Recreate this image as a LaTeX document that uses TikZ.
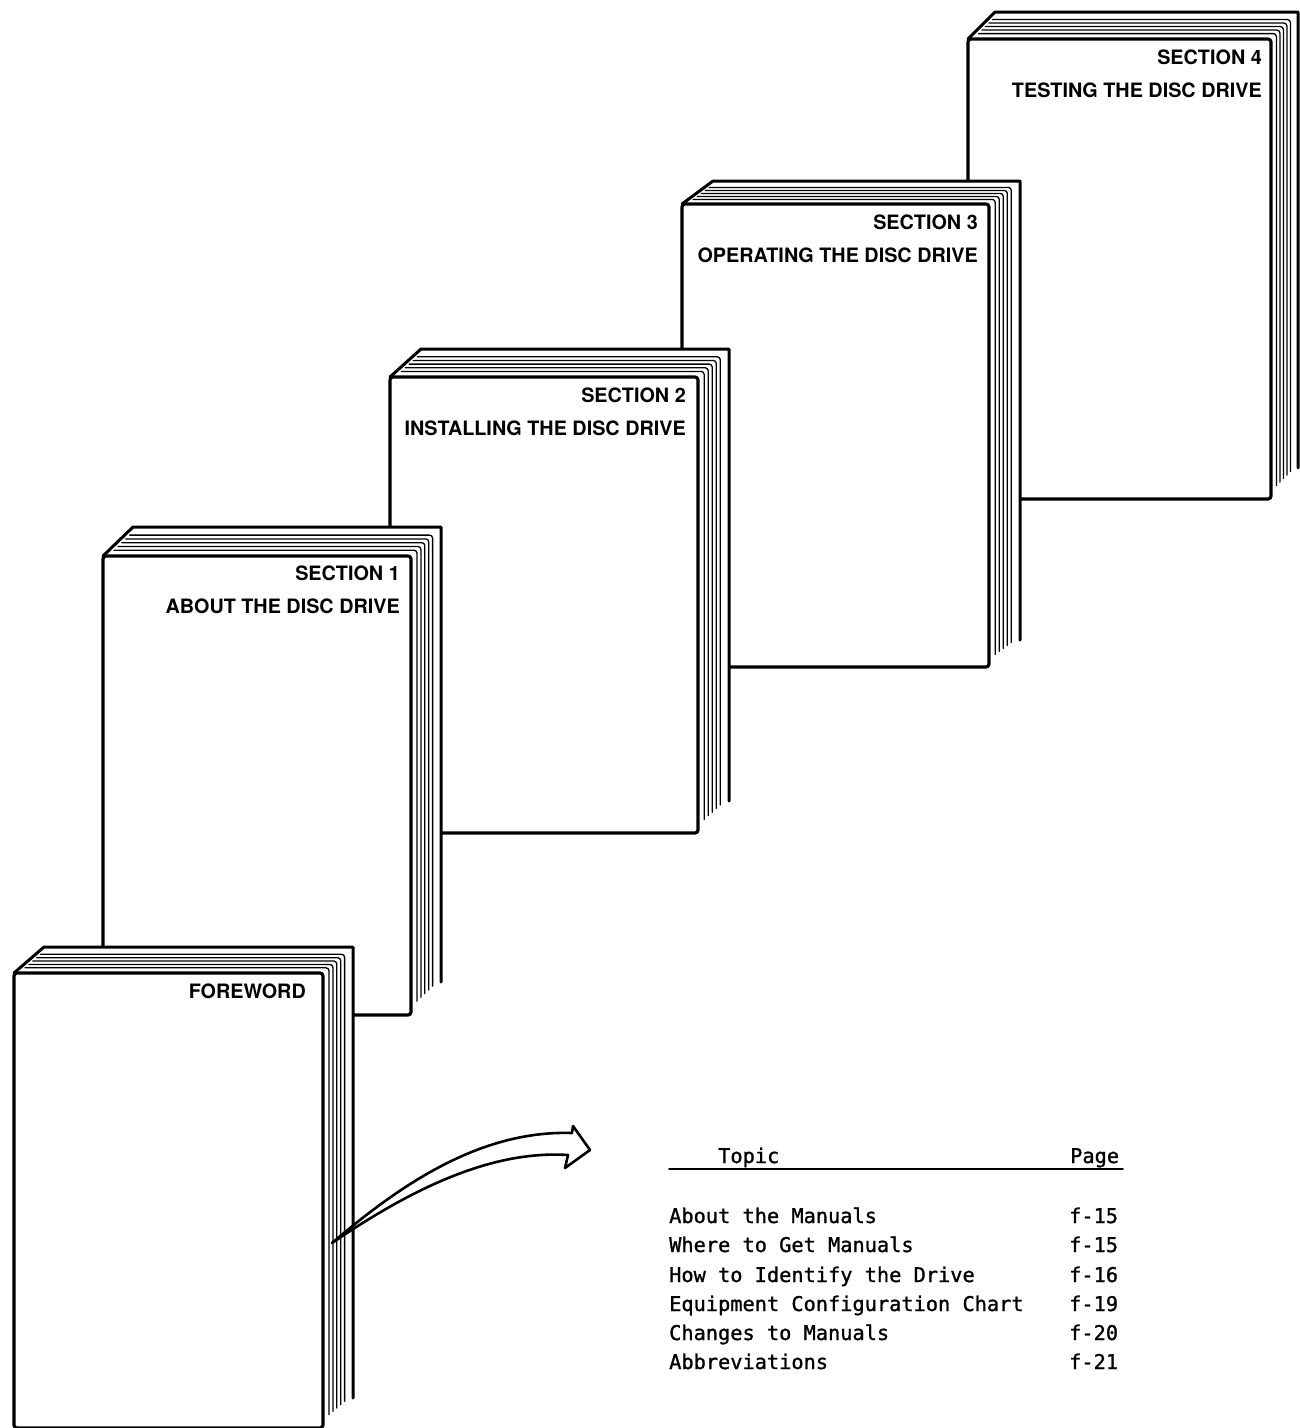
\documentclass[tikz,border=0pt]{standalone}
\usepackage{fontspec}
\newfontfamily\labfont{TeX Gyre Heros}
\newfontfamily\tabfont[FakeBold=1.2]{DejaVu Sans Mono}
\tikzset{
  cover/.style={line width=3.2pt},
  backcover/.style={line width=3pt},
  pageline/.style={line width=1.3pt, rounded corners=3pt},
  seclabel/.style={font={\labfont\bfseries\fontsize{19.8}{22}\selectfont}, inner sep=0pt, anchor=base east},
  tabtext/.style={font={\tabfont\fontsize{20.3}{24}\selectfont}, inner sep=0pt, anchor=base west},
  arrowshape/.style={line width=2.6pt, fill=white, draw=black},
}
% #1 L, #2 T, #3 DX, #4 DY, #5 H, #6 W
\newcommand{\drawbook}[6]{%
  \fill[white] (#1,{#2+#5}) -- (#1,#2) -- ({#1+#3},{#2-#4}) -- ({#1+#6+#3},{#2-#4})
     -- ({#1+#6+#3},{#2+#5-#4}) -- ({#1+#6},{#2+#5}) -- cycle;
  \foreach \pp in {0.2,0.33,0.46,0.59,0.72}{
    \draw[pageline] ({#1+\pp*#3+5},{#2-\pp*#4}) -- ({#1+#6+\pp*#3},{#2-\pp*#4})
       -- ({#1+#6+\pp*#3},{#2+#5-\pp*#4-8});
  }
  \draw[backcover] (#1,#2) -- ({#1+#3},{#2-#4}) -- ({#1+#6+#3},{#2-#4})
     -- ({#1+#6+#3},{#2+#5-#4-4});
  \draw[cover, fill=white, rounded corners=3pt] (#1,#2) rectangle ({#1+#6},{#2+#5});
}
\begin{document}
\begin{tikzpicture}[x=1pt, y=-1pt, line join=round, line cap=round]
\useasboundingbox (0,0) rectangle (1300,1428);
\clip (0,0) rectangle (1300,1428);
% books, back to front
\drawbook{968}{39}{27}{27}{460}{303}
\node[seclabel] (s4-sec) at (1262,64) {SECTION 4};
\node[seclabel] (s4-title) at (1262,97) {TESTING THE DISC DRIVE};

\drawbook{682}{204}{31}{23}{463}{307}
\node[seclabel] (s3-sec) at (978,229) {SECTION 3};
\node[seclabel] (s3-title) at (978,262) {OPERATING THE DISC DRIVE};

\drawbook{390}{377}{31}{28}{456}{308}
\node[seclabel] (s2-sec) at (686,402) {SECTION 2};
\node[seclabel] (s2-title) at (686,435) {INSTALLING THE DISC DRIVE};

\drawbook{103}{556}{30}{29}{459}{308}
\node[seclabel] (s1-sec) at (400,580) {SECTION 1};
\node[seclabel] (s1-title) at (400,613) {ABOUT THE DISC DRIVE};

\drawbook{14}{973}{30}{26}{455}{309}
\node[seclabel] (fw-label) at (306,998) {FOREWORD};

% curved hollow arrow
\coordinate (arrow-tail) at (332,1243);
\coordinate (arrow-tip) at (590,1150);
\draw[arrowshape] (arrow-tail) .. controls (400,1185) and (480,1130) .. (572,1133)
   -- (573,1126) -- (arrow-tip) -- (565,1168) -- (568,1155)
   .. controls (490,1150) and (410,1190) .. (arrow-tail) -- cycle;

% table
\node[tabtext] (topic-h) at (718,1163) {Topic};
\node[tabtext] (page-h) at (1070,1163) {Page};
\coordinate (rule-l) at (669,1169);
\coordinate (rule-r) at (1123,1169);
\draw[line width=1.8pt] (rule-l) -- (rule-r);

\node[tabtext] (t1) at (669,1223) {About the Manuals};
\node[tabtext] (p1) at (1069,1223) {f-15};
\node[tabtext] (t2) at (669,1252) {Where to Get Manuals};
\node[tabtext] (p2) at (1069,1252) {f-15};
\node[tabtext] (t3) at (669,1282) {How to Identify the Drive};
\node[tabtext] (p3) at (1069,1282) {f-16};
\node[tabtext] (t4) at (669,1311) {Equipment Configuration Chart};
\node[tabtext] (p4) at (1069,1311) {f-19};
\node[tabtext] (t5) at (669,1340) {Changes to Manuals};
\node[tabtext] (p5) at (1069,1340) {f-20};
\node[tabtext] (t6) at (669,1369) {Abbreviations};
\node[tabtext] (p6) at (1069,1369) {f-21};
\end{tikzpicture}
\end{document}
